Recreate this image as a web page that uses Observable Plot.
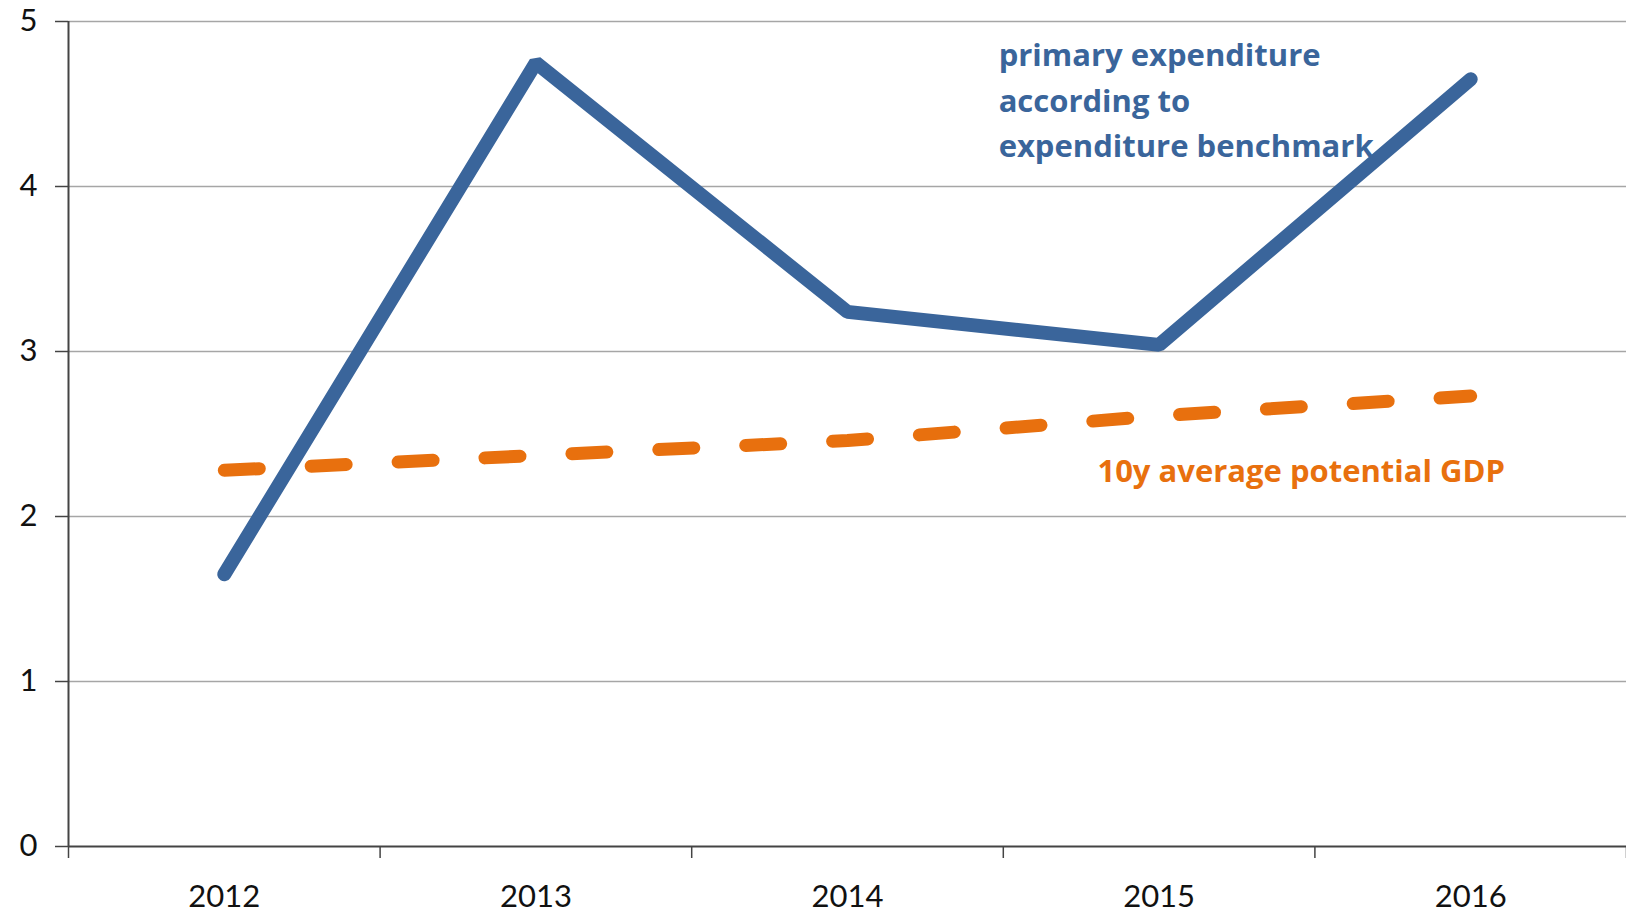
<!DOCTYPE html>
<html><head><meta charset="utf-8">
<script src="https://cdn.jsdelivr.net/npm/d3@7"></script>
<script src="https://cdn.jsdelivr.net/npm/@observablehq/plot@0.6"></script>
<style>html,body{margin:0;padding:0;background:#fff;overflow:hidden}</style>
</head><body><div id="chart"></div>
<script>
const years = [2012, 2013, 2014, 2015, 2016];
const primaryExpenditure = [1.65, 4.75, 3.24, 3.04, 4.65];
const potentialGDP = [2.28, 2.37, 2.46, 2.61, 2.73];
const yTicks = [0, 1, 2, 3, 4, 5];
const blueLabel = ["primary expenditure\naccording to\nexpenditure benchmark"];
const orangeLabel = ["10y average potential GDP"];

const blue = "#3a659b", orange = "#e8700e";
const bounds = years.map(y => y - 0.5).concat([years[years.length - 1] + 0.5]);
const rowsBlue = years.map((y, i) => ({year: y, value: primaryExpenditure[i]}));
const rowsOrange = years.map((y, i) => ({year: y, value: potentialGDP[i]}));

const chart = Plot.plot({
  width: 1626, height: 914,
  marginLeft: 68, marginRight: 0, marginTop: 21, marginBottom: 68,
  style: {fontFamily: "Lato, 'Open Sans', sans-serif", fontSize: "31px", color: "#111", background: "#fff"},
  x: {type: "linear", domain: [bounds[0], bounds[bounds.length - 1]]},
  y: {domain: [0, 5]},
  marks: [
    Plot.ruleY(yTicks.filter(d => d > 0), {stroke: "#a6a6a6", strokeWidth: 1.5}),
    Plot.axisY({ticks: yTicks, tickSize: 13, tickPadding: 18, tickFormat: d => String(d), label: null, stroke: "#444", strokeWidth: 1.5}),
    Plot.axisX({ticks: bounds, tickSize: 12, tickFormat: () => "", label: null, stroke: "#444", strokeWidth: 1.5}),
    Plot.axisX({ticks: years, tickSize: 0, tickPadding: 38, tickFormat: d => String(d), label: null}),
    Plot.ruleY([0], {stroke: "#444", strokeWidth: 2}),
    Plot.ruleX([bounds[0]], {stroke: "#444", strokeWidth: 2}),
    Plot.line(rowsOrange, {x: "year", y: "value", stroke: orange, strokeWidth: 13, strokeDasharray: "35,52", strokeLinecap: "round"}),
    Plot.line(rowsBlue, {x: "year", y: "value", stroke: blue, strokeWidth: 14, strokeLinecap: "round", strokeLinejoin: "miter"}),
    Plot.text(blueLabel, {x: 2014.485, y: 4.542, text: d => d, textAnchor: "start", lineHeight: 1.47, fontSize: 31, fontWeight: 700, fontFamily: "'Open Sans', sans-serif", fill: blue}),
    Plot.text(orangeLabel, {x: 2014.802, y: 2.27, text: d => d, textAnchor: "start", fontSize: 31, fontWeight: 700, fontFamily: "'Open Sans', sans-serif", fill: orange})
  ]
});
document.getElementById("chart").append(chart);
</script>
</body></html>
